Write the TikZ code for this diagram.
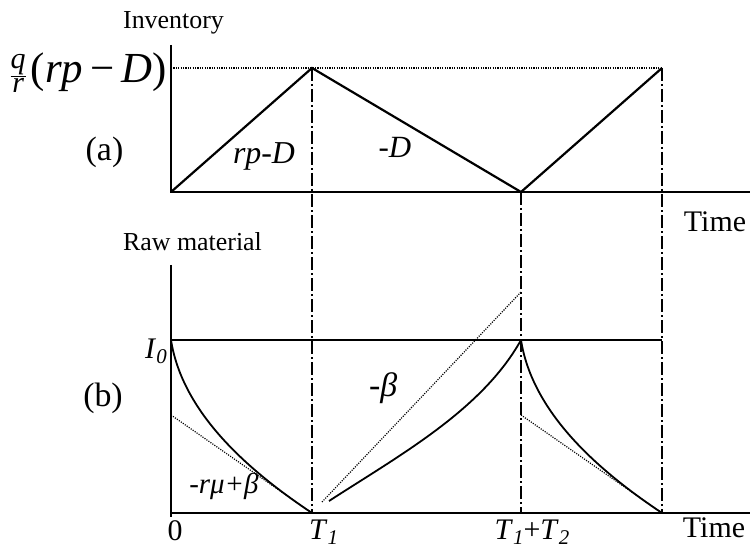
\documentclass[tikz,border=0pt]{standalone}
\usepackage{fontspec}
\usepackage{amsmath}
\setmainfont{Liberation Serif}
\newcommand\fs[1]{\fontsize{#1}{#1}\selectfont}
\newcommand\sbs[1]{\raisebox{-0.2em}{\fontsize{0.7em}{0.7em}\selectfont #1}}
\begin{document}
\begin{tikzpicture}[x=1bp,y=-1bp,
  axis/.style={line width=1.6bp},
  graph/.style={line width=2.2bp, line join=miter},
  thin/.style={line width=1.5bp},
  dotline/.style={line width=1.2bp, dash pattern=on 1.1bp off 1.3bp},
  dashdot/.style={line width=1.3bp, dash pattern=on 13bp off 3bp on 2bp off 3bp},
  lbl/.style={inner sep=0pt, anchor=base}]
\useasboundingbox (0,0) rectangle (750,550);
% top panel coordinates
\coordinate (oa) at (171,192);
\coordinate (ya) at (171,45);
\coordinate (xa) at (750,192);
\coordinate (p1) at (312,68);
\coordinate (v1) at (521,192);
\coordinate (p2) at (662,68);
\coordinate (qa) at (171,68);
% bottom panel coordinates
\coordinate (ob) at (171,517);
\coordinate (yb) at (171,265);
\coordinate (xb0) at (171,513);
\coordinate (xb) at (750,513);
\coordinate (i0) at (171,340);
\coordinate (i0e) at (662,340);
\coordinate (t1) at (312,513);
\coordinate (t12) at (521,513);
\coordinate (t3) at (662,513);
\coordinate (pk) at (521,340);
\coordinate (d1) at (171,415);
\coordinate (d2a) at (322,502);
\coordinate (d2b) at (521,292);
\coordinate (d3) at (521,415);
\coordinate (c2s) at (329,501);
% axes
\draw[axis] (ya) -- (oa) -- (xa);
\draw[axis] (yb) -- (ob);
\draw[axis] (xb0) -- (xb);
% top graph
\draw[dotline] (qa) -- (p2);
\draw[graph] (oa) -- (p1) -- (v1) -- (p2);
% dash-dot verticals
\draw[dashdot] (p1) -- (t1);
\draw[dashdot] (v1) -- (t12);
\draw[dashdot] (p2) -- (t3);
% bottom graph
\draw[thin] (i0) -- (i0e);
\draw[dotline] (d1) -- (t1);
\draw[dotline] (d2a) -- (d2b);
\draw[dotline] (d3) -- (t3);
\draw[graph, line width=1.8bp] (i0) .. controls (182,410) and (243,467) .. (t1);
\draw[graph, line width=1.8bp] (c2s) .. controls (400,455) and (482,410) .. (pk);
\draw[graph, line width=1.8bp] (pk) .. controls (532,410) and (593,467) .. (t3);
% labels
\node[lbl] (inv) at (173.5,29) {\fs{26}Inventory};
\node[lbl, anchor=base east] (qr) at (167,83) {\fs{43}$\frac{\text{\itshape q}}{\text{\itshape r}}$\kern4bp(\textit{rp}\,−\,\textit{D})};
\node[lbl] (la) at (104.5,161) {\fs{34}(a)};
\node[lbl] (s1) at (264,164) {\fs{32}\textit{rp-D}};
\node[lbl] (s2) at (395,158) {\fs{31}\textit{-D}};
\node[lbl] (time1) at (715,232) {\fs{30}Time};
\node[lbl] (raw) at (192.5,251) {\fs{26}Raw material};
\node[lbl, anchor=base east] (li0) at (167,358) {\fs{30}\textit{I}\sbs{\textit{0}}};
\node[lbl] (lb) at (103,406) {\fs{34}(b)};
\node[lbl, anchor=base west] (beta) at (369,396) {\fs{34}\textit{-β}};
\node[lbl] (rmu) at (224,493) {\fs{29}\textit{-rμ+β}};
\node[lbl] (zero) at (175,540) {\fs{30}0};
\node[lbl, anchor=base west] (lt1) at (309,539) {\fs{30}\textit{T}\sbs{\textit{1}}};
\node[lbl] (lt12) at (532,539) {\fs{30}\textit{T}\sbs{\textit{1}}+\textit{T}\sbs{\textit{2}}};
\node[lbl] (time2) at (714,537) {\fs{30}Time};
\end{tikzpicture}
\end{document}
